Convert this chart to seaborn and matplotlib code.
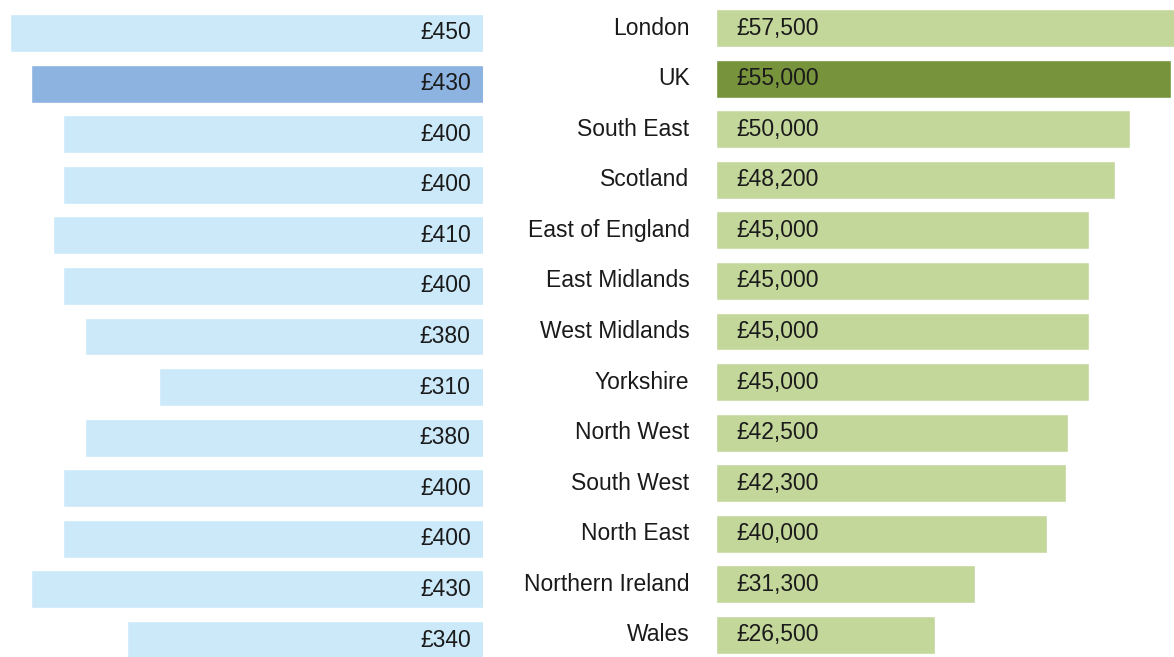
import matplotlib
matplotlib.use("Agg")
import matplotlib.pyplot as plt
import seaborn as sns
import pandas as pd

sns.set_theme(style="white")
plt.rcParams['font.family'] = ['Liberation Sans', 'DejaVu Sans']

# data
regions = ["London", "UK", "South East", "Scotland", "East of England",
           "East Midlands", "West Midlands", "Yorkshire", "North West",
           "South West", "North East", "Northern Ireland", "Wales"]
left_vals = [450, 430, 400, 400, 410, 400, 380, 310, 380, 400, 400, 430, 340]
right_vals = [57500, 55000, 50000, 48200, 45000, 45000, 45000, 45000,
              42500, 42300, 40000, 31300, 26500]
highlight = "UK"

LIGHT_BLUE = "#CCE9FA"
DARK_BLUE = "#8DB3E0"
LIGHT_GREEN = "#C4D79B"
DARK_GREEN = "#77933C"
TEXT = "#1a1a1a"
FS = 16.5

df = pd.DataFrame({"region": regions, "left": left_vals, "right": right_vals})

W, H = 1174, 657
fig = plt.figure(figsize=(W / 100, H / 100), dpi=100)
fig.patch.set_facecolor("white")

# axes placed in pixel terms
ax_l = fig.add_axes([10 / W, 0, (483 - 10) / W, 1])
ax_r = fig.add_axes([716 / W, 0, (W - 716) / W, 1])

pal_l = {r: (DARK_BLUE if r == highlight else LIGHT_BLUE) for r in regions}
pal_r = {r: (DARK_GREEN if r == highlight else LIGHT_GREEN) for r in regions}

sns.barplot(data=df, x="left", y="region", hue="region", palette=pal_l,
            legend=False, width=0.75, orient="h", ax=ax_l, saturation=1)
sns.barplot(data=df, x="right", y="region", hue="region", palette=pal_r,
            legend=False, width=0.75, orient="h", ax=ax_r, saturation=1)

# left panel grows leftward
ax_l.set_xlim(450, 6.5)
ax_l.set_ylim(12.336, -0.652)
ax_r.set_xlim(0, 55314)
ax_r.set_ylim(12.435, -0.554)

for ax in (ax_l, ax_r):
    ax.set_axis_off()

for i, (r, lv, rv) in enumerate(zip(regions, left_vals, right_vals)):
    ax_l.text(18, i, f"£{lv}", ha="right", va="center", fontsize=FS, color=TEXT)
    ax_r.text(2500, i, f"£{rv:,}", ha="left", va="center", fontsize=FS, color=TEXT)
    ax_r.text(-3200, i, r, ha="right", va="center", fontsize=FS, color=TEXT,
              clip_on=False)

fig.savefig("out.png", dpi=100, facecolor="white")
